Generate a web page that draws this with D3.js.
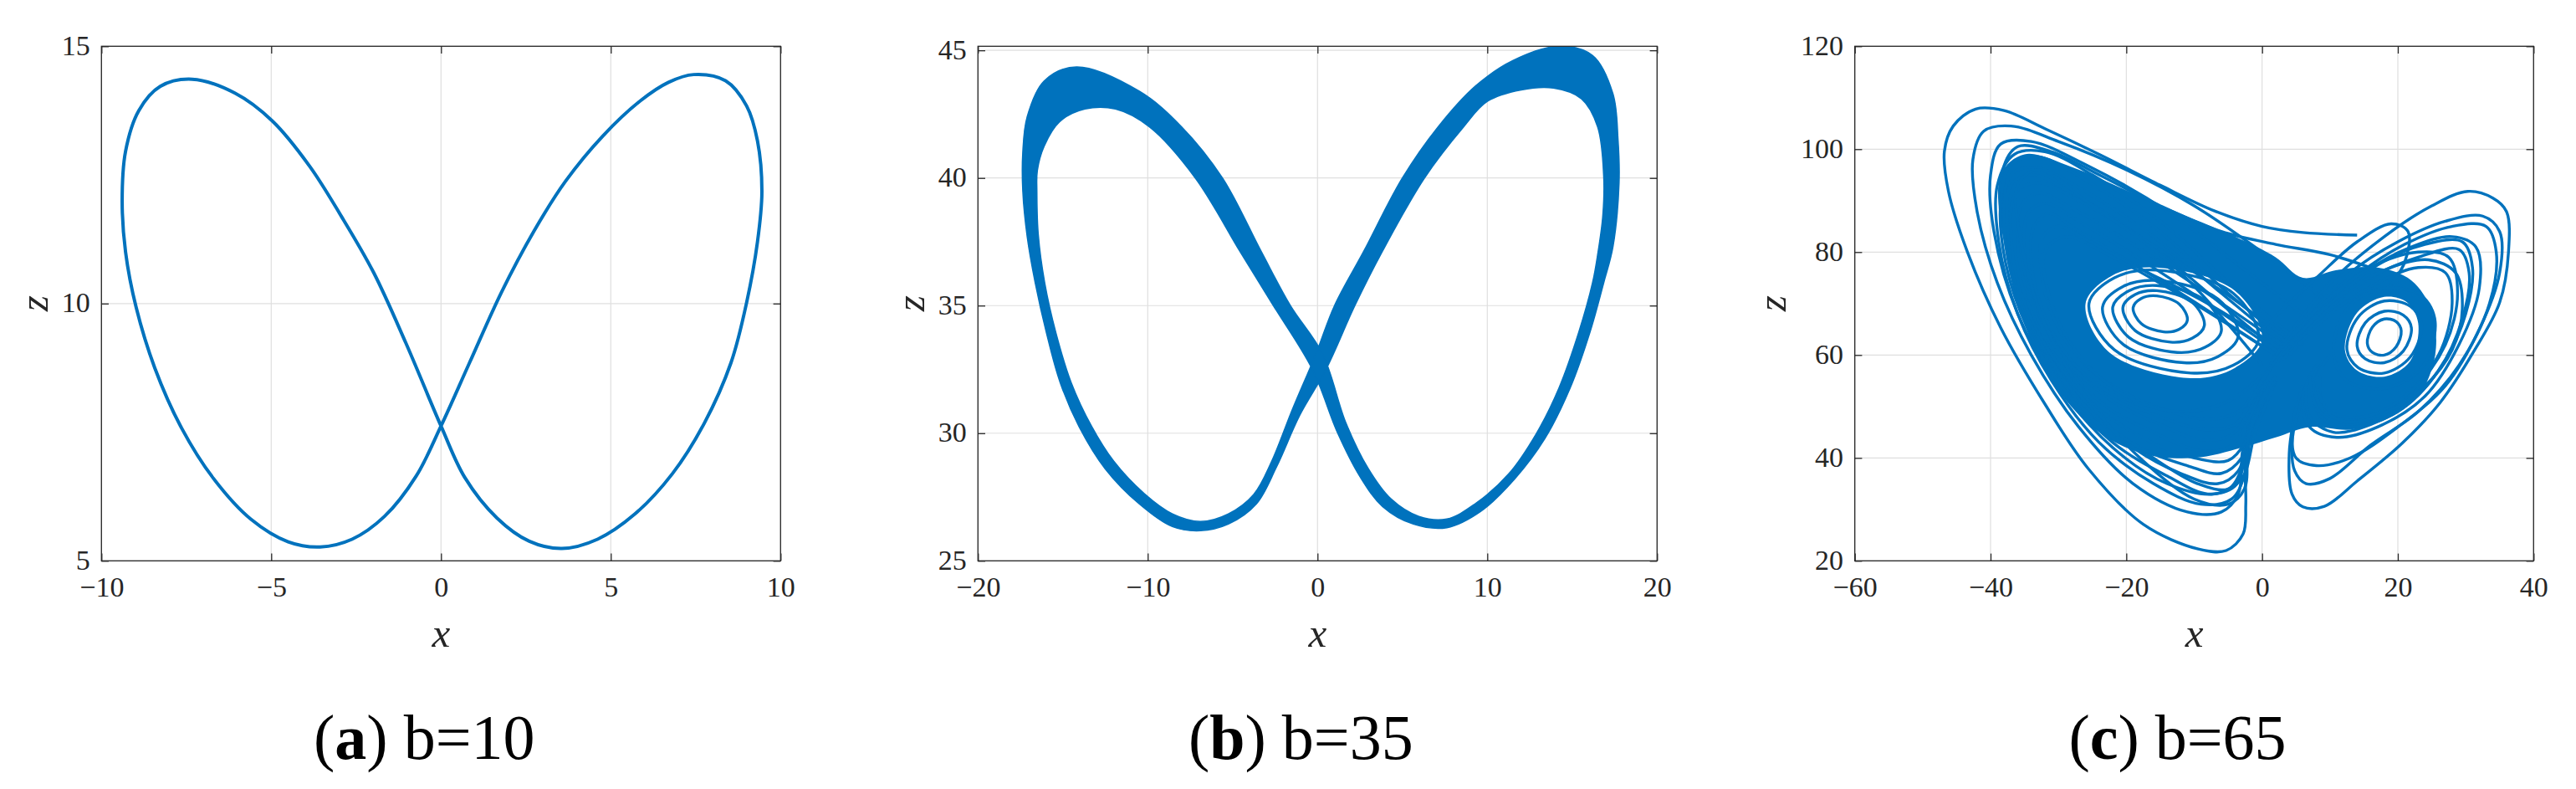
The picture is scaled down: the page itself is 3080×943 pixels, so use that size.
<!DOCTYPE html>
<html><head><meta charset="utf-8">
<script src="https://cdn.jsdelivr.net/npm/d3@7"></script>
<style>
body{margin:0;background:#fff}
</style>
</head><body>
<svg id="c" width="3080" height="943"></svg>
<script>
// ---------------- DATA ----------------
const xDomA=[-10,10], zDomA=[5,15];
const xDomB=[-20,20], zDomB=[25,45.16];
const xDomC=[-60,40], zDomC=[20,120];
const xTicksA=[-10,-5,0,5,10], zTicksA=[5,10,15];
const xTicksB=[-20,-10,0,10,20], zTicksB=[25,30,35,40,45];
const xTicksC=[-60,-40,-20,0,20,40], zTicksC=[20,40,60,80,100,120];
const captionTags=["a","b","c"];
const captionTexts=["b=10","b=35","b=65"];

// panel (a): periodic orbit (x,z)
const orbitA=[[0,7.62],[0.84,8.85],[1.78,10.22],[2.73,11.4],[3.67,12.38],[4.77,13.26],[5.87,13.94],[6.7,14.3],[7.44,14.45],[8.38,14.33],[9.0,13.84],[9.32,13.16],[9.45,12.18],[9.32,11.2],[9.0,10.02],[8.54,8.85],[7.75,7.67],[6.81,6.69],[5.71,5.91],[4.61,5.42],[3.56,5.24],[2.6,5.38],[1.65,5.83],[0.7,6.62],
[0,7.62],[-1.04,9.24],[-1.99,10.61],[-2.93,11.69],[-3.87,12.67],[-4.97,13.55],[-6.07,14.09],[-7.33,14.36],[-8.27,14.22],[-8.9,13.75],[-9.29,12.96],[-9.39,11.98],[-9.29,11.0],[-8.98,9.93],[-8.43,8.75],[-7.64,7.58],[-6.7,6.6],[-5.6,5.81],[-4.5,5.37],[-3.56,5.27],[-2.62,5.42],[-1.67,5.86],[-0.73,6.65]];

// panel (b): the two edges of the thick band (same ordering)
const bandEdgeA=[[0.3,33.1],[-1.6,35.0],[-3.3,37.1],[-5.6,40.0],[-8.0,42.0],[-10.5,43.4],[-14.2,44.35],[-16.1,43.8],[-17.1,42.4],[-17.36,41.0],[-17.36,39.5],[-17.1,37.7],[-16.63,35.9],[-15.97,33.94],[-15.15,31.97],[-14.0,30.2],[-12.5,28.6],[-10.5,27.23],[-8.55,26.34],[-6.9,26.18],[-5.25,26.44],[-3.6,27.23],[-2.4,28.7],[-1.05,30.7],
[0.5,32.5],[2.2,35.0],[3.8,37.1],[6.3,40.0],[8.6,42.0],[10.0,43.0],[12.0,43.45],[13.9,43.52],[15.55,43.1],[16.5,42.0],[16.86,40.0],[16.8,38.5],[16.5,37.0],[16.2,35.9],[15.38,33.94],[14.22,31.77],[12.9,30.0],[11.25,28.4],[9.27,27.23],[7.62,26.64],[5.97,26.74],[4.32,27.43],[3.0,28.6],[1.68,30.39]];
const bandEdgeB=[[-0.3,32.5],[-2.6,35.0],[-4.55,37.1],[-7.2,40.0],[-9.9,42.0],[-11.9,42.7],[-13.7,42.7],[-15.2,42.2],[-16.1,41.25],[-16.5,40.3],[-16.53,39.5],[-16.45,37.8],[-16.07,35.9],[-15.41,33.94],[-14.5,31.97],[-13.33,30.3],[-12.0,28.9],[-10.2,27.63],[-8.55,26.84],[-6.9,26.54],[-5.25,26.84],[-3.76,27.6],[-2.7,28.9],[-1.5,30.9],
[-0.1,33.1],[1.0,35.0],[2.7,37.1],[5.0,40.0],[7.1,42.0],[9.3,43.6],[11.5,44.6],[14.2,45.16],[16.2,44.8],[17.4,43.3],[17.7,41.5],[17.76,39.8],[17.4,37.3],[16.86,35.9],[16.04,33.94],[14.88,31.77],[13.4,29.8],[11.6,28.2],[9.6,26.93],[7.62,26.3],[5.64,26.44],[3.83,27.13],[2.5,28.3],[1.19,30.0]];

// panel (c): chaotic trajectory, read as separate loops
const leftLoops=[
[[14,83.3],[6,83.8],[0,85],[-7,88],[-15,93],[-24,99],[-32,104],[-38,107.5],[-42.2,107.8],[-45.5,104.5],[-46.8,99.6],[-46.2,91.8],[-43.4,80],[-38.5,65.3],[-32.1,50.7],[-25.6,37.9],[-17.5,27.1],[-9.4,22.3],[-5.3,22],[-2.8,25.2],[-2.4,31],[-2.5,40.9],[-1.5,50]],
[[10,70],[0,80],[-10,89],[-20,96],[-30,101.5],[-37,104.5],[-41,103.5],[-42.6,98],[-42,88],[-39,74],[-34,60],[-27,46],[-19,35],[-11,29.5],[-6,29.5],[-3.5,33],[-2.8,42],[0,52]],
[[8,66],[-2,76],[-14,88],[-26,97],[-34,101.5],[-38.5,101],[-40,95],[-39.5,84],[-36,68],[-30,54],[-22,42],[-14,35],[-7,33],[-3,36],[-1,45],[2,55]],
[[18,76],[10,79.5],[2,81.5],[-6,84],[-15,89],[-24,95],[-31,99.5],[-36,100.5],[-38.2,96],[-38,86],[-35.5,72],[-31,60],[-24,48],[-16,40],[-9.5,35],[-5,34],[-3,38],[-2,45],[0,53]],
[[6,62],[-4,73],[-15,86],[-25,95],[-32,99.5],[-36.5,99],[-39,93],[-38.8,82],[-36,68],[-31,55],[-24,43],[-16,35],[-9,31],[-4.5,32],[-2.5,37],[-1.5,46],[1,55]],
[[5,61],[-5,72],[-16,85],[-26,94],[-33,98.5],[-37,97],[-38.5,90],[-37.8,78],[-34.5,65],[-29,53],[-22,43],[-14,36.5],[-8,33],[-4,34.5],[-2.5,40],[-1,49],[2,56]],
[[4,61],[-6,72],[-17,84],[-27,92.5],[-33.5,96.5],[-37,95],[-38,88],[-37,76],[-33,63],[-27,51],[-19,42],[-12,37],[-6.5,35],[-3.5,37.5],[-2,44],[0.5,52]],
[[3,60],[-7,71],[-18,83],[-28,91.5],[-34,95],[-37,93],[-37.5,85],[-36,73],[-32,61],[-26,50],[-18,42],[-11,38.5],[-6,37],[-3,40],[-1.5,46],[1,53]],
[[5,62],[-6,72.5],[-18,83],[-27,90],[-33,93.5],[-36.3,91.5],[-37,84],[-35.5,72],[-31,60],[-24.5,50],[-17,43.5],[-10,40],[-5,39.5],[-2.5,43],[-1,49],[2,55]],
[[4,61],[-7,71],[-19,81.5],[-28,88.5],[-33,91.5],[-35.5,89],[-36,81],[-34,70],[-29.5,59],[-23,50],[-16,45],[-9.5,41.5],[-5,42],[-2.5,46],[-0.5,52]],
[[3,60],[-8,70],[-19,79.5],[-27,86],[-32,89.5],[-34.5,87.5],[-35,80],[-33,69],[-28.5,58.5],[-22,51],[-15,46.5],[-9,43.5],[-4.5,44.5],[-2,49],[0,55]],
[[2,60],[-9,69.5],[-20,78.5],[-27.5,84.5],[-31.5,87.5],[-33.6,85],[-34,78],[-32,67.5],[-27.5,58],[-21,51.5],[-14,47.5],[-8.5,45.5],[-4,46.5],[-1.5,51],[1,57]],
[[3,61],[-8,70],[-19,77.5],[-26,82.5],[-30,85],[-32.3,83],[-32.5,76],[-30.5,66.5],[-26,58],[-20,52.5],[-13.5,49],[-8,47.5],[-3.5,49],[-1,53],[1.5,58]],
[[0,58],[-12,76],[-26,90],[-33,96],[-36,93],[-35.5,82],[-32,66],[-26,52],[-18,40],[-10,32],[-5,31],[-2.6,34],[-2,44],[1,54]],
[[2,60],[-10,70],[-22,79],[-29,83],[-32,80],[-31,70],[-27,60],[-20,52],[-12,49],[-5,51],[0,56]]
];
const leftRings=[
[[-19,69.2],[-17.8,71],[-15.5,71.5],[-12.2,69.9],[-11,66.8],[-12.2,65],[-14.5,64.5],[-17.8,66.1]],
[[-20.5,69.25],[-18.7,71.75],[-15.5,72.5],[-10.3,70.25],[-8.5,65.75],[-10.3,63.25],[-13.5,62.5],[-18.7,64.75]],
[[-22,69.3],[-19.6,72.5],[-15.5,73.5],[-8.4,70.6],[-6,64.7],[-8.4,61.5],[-12.5,60.5],[-19.6,63.4]],
[[-23.5,69.3],[-20.5,73.3],[-15.5,74.5],[-6.5,70.9],[-3.5,63.7],[-6.5,59.7],[-11.5,58.5],[-20.5,62.1]],
[[-25.5,70],[-21.75,75],[-15.5,76.5],[-4.25,72],[-0.5,63],[-4.25,58],[-10.5,56.5],[-21.75,61]]
];
const rightLoops=[
[[-2,50],[3,62],[10,74],[18,83],[25,89],[30.3,91.8],[34,90.5],[36,87.9],[36.3,80],[35,70.2],[31.1,60.5],[26.2,50.7],[20.6,42.8],[14,35.5],[9.2,30.6],[6,30.5],[4.4,33],[4,40.9],[5,50]],
[[0,55],[6,66],[13,76],[20,82],[27,86],[32.5,87],[35,84],[35,76],[32,65],[27,54],[20,46],[13,40],[8,38.5],[5,40],[4.5,46],[6,54]],
[[1,57],[7,67],[14,75.5],[21,81.5],[28,85],[33,85],[34.5,80],[33.5,70],[29,58],[23,49],[16,42.5],[10,36],[6.5,35],[4.8,37.5],[4.5,44],[6,52]],
[[2,58],[8,68],[15,76],[22,81],[28,83],[31.5,81],[32,73],[29,62],[24,52],[17,46],[11,44],[7,46],[6,52],[8,58]],
[[3,59],[9,68],[16,75],[23,79],[29,80.5],[30.5,76],[29.5,67],[26,57],[20,49],[13,46],[9,47.5],[7.5,53],[9,59]],
[[3,60],[10,70],[17,77.5],[24,81.5],[29.5,82],[31,77],[30,68],[27,59],[22,51],[16,46.5],[10.5,45],[7,48],[6.5,54]],
[[2,60],[9,70],[16,77],[23,80],[27.5,79],[28.8,72],[27,62],[22,53],[16,48],[11,47],[8,50],[7,56]],
[[4,62],[11,71],[18,76.5],[24.5,78.5],[28.5,76],[29.5,69],[28,61],[24,54],[18.5,49],[12.5,47],[9,50],[8.5,56]],
[[4,60],[10,68],[17,74],[23,77],[27,76],[28,70],[26,60],[21,52],[15,48],[10,49],[8,55],[10,60]],
[[0,65],[8,75],[14,82],[19,85.5],[21.5,84],[21,78],[18,72]]
];
const rightRings=[
[[20.5,64.7],[19.75,66.5],[18,67],[16.25,65.4],[15.5,62.3],[16.25,60.5],[18,60],[19.75,61.6]],
[[22,65.25],[20.8,67.75],[18,68.5],[15.2,66.25],[14,61.75],[15.2,59.25],[18,58.5],[20.8,60.75]],
[[23.5,65.95],[21.85,69.45],[18,70.5],[14.15,67.35],[12.5,61.05],[14.15,57.55],[18,56.5],[21.85,59.65]],
[[25.5,66.5],[23.5,71.5],[18,73],[12.5,69],[10.5,60.5],[12.5,55],[18,53.5],[23.5,57.5]]
];
// outline of the saturated (densely overlapping) region, and the two open eyes
const denseCore=[[-38.5,95],[-35,99],[-28,96.5],[-20,92],[-12,87.5],[-4,83],[2,79],[6,75],[11,76.5],[17,77],[22,74.5],[25,68.5],[25.5,60],[23,52],[18,47.5],[13,45.5],[7,46],[2,44],[-3,42],[-10,40],[-18,41],[-25,46],[-31,55],[-35,66],[-37.5,78]];
const denseEyeL=[[-26,70],[-22,75.5],[-15.5,77],[-4,72.5],[0,63],[-4,57.5],[-10.5,55.5],[-22.5,60.5]];
const denseEyeR=[[23,66.2],[21.3,70.3],[18,71.3],[14,68.2],[12.2,61],[14,57],[18,55.8],[21.8,58.8]];

// ---------------- LAYOUT ----------------
const FONT='"Liberation Serif","DejaVu Serif","Noto Serif",serif';
const BLUE="#0072BD", INK="#262626", GRID="#dfdfdf";
const T=55.3, B=670.3, TICK=8.7;
const panels=[
 {L:121.3,R:933.3,xDom:xDomA,zDom:zDomA,xTicks:xTicksA,zTicks:zTicksA,zOff:64},
 {L:1169.3,R:1981.3,xDom:xDomB,zDom:zDomB,xTicks:xTicksB,zTicks:zTicksB,zOff:64},
 {L:2217.7,R:3029.3,xDom:xDomC,zDom:zDomC,xTicks:xTicksC,zTicks:zTicksC,zOff:82.6}
];
const svg=d3.select("#c");
const fmt=d=>d<0?"\u2212"+Math.abs(d):String(d);

function drawPanel(p,idx,drawer){
  const x=d3.scaleLinear().domain(p.xDom).range([p.L,p.R]);
  const z=d3.scaleLinear().domain(p.zDom).range([B,T]);
  const g=svg.append("g");
  g.append("g").selectAll("line").data(p.xTicks).join("line")
   .attr("x1",d=>x(d)).attr("x2",d=>x(d)).attr("y1",T).attr("y2",B)
   .attr("stroke",GRID).attr("stroke-width",1.2);
  g.append("g").selectAll("line").data(p.zTicks).join("line")
   .attr("x1",p.L).attr("x2",p.R).attr("y1",d=>z(d)).attr("y2",d=>z(d))
   .attr("stroke",GRID).attr("stroke-width",1.2);
  svg.append("clipPath").attr("id","clip"+idx).append("rect")
   .attr("x",p.L).attr("y",T).attr("width",p.R-p.L).attr("height",B-T);
  const dg=g.append("g").attr("clip-path",`url(#clip${idx})`);
  drawer(dg,x,z);
  g.append("rect").attr("x",p.L).attr("y",T).attr("width",p.R-p.L).attr("height",B-T)
   .attr("fill","none").attr("stroke",INK).attr("stroke-width",1.3);
  const ax=[
    [d3.axisBottom(x).tickValues(p.xTicks).tickSize(TICK).tickFormat(fmt),`translate(0,${B})`,"b"],
    [d3.axisTop(x).tickValues(p.xTicks).tickSize(TICK).tickFormat(""),`translate(0,${T})`,"t"],
    [d3.axisLeft(z).tickValues(p.zTicks).tickSize(TICK).tickFormat(fmt),`translate(${p.L},0)`,"l"],
    [d3.axisRight(z).tickValues(p.zTicks).tickSize(TICK).tickFormat(""),`translate(${p.R},0)`,"r"]
  ];
  ax.forEach(([a,tr,side])=>{
    const ag=g.append("g").attr("transform",tr).call(a);
    ag.attr("font-family",FONT).attr("font-size",34);
    ag.select(".domain").remove();
    ag.selectAll(".tick line").attr("stroke",INK).attr("stroke-width",1.3);
    if(side==="b") ag.selectAll(".tick line").attr("y2",-TICK);
    if(side==="t") ag.selectAll(".tick line").attr("y2",TICK);
    if(side==="l") ag.selectAll(".tick line").attr("x2",TICK);
    if(side==="r") ag.selectAll(".tick line").attr("x2",-TICK);
    const tx=ag.selectAll(".tick text").attr("font-family",FONT).attr("font-size",34).attr("fill",INK);
    if(side==="b"){tx.attr("y",42.6).attr("dy",null);}
    if(side==="l"){tx.attr("x",-13.6).attr("dy",null).attr("y",10);}
  });
  g.append("text").attr("x",(p.L+p.R)/2).attr("y",773).attr("text-anchor","middle")
   .attr("font-family",FONT).attr("font-size",49).attr("font-style","italic").attr("fill",INK).text("x");
  g.append("text").attr("transform",`translate(${p.L-p.zOff},${(T+B)/2}) rotate(-90)`)
   .attr("text-anchor","middle").attr("font-family",FONT).attr("font-size",49)
   .attr("font-style","italic").attr("fill",INK).text("z");
  const cap=g.append("text").attr("x",(p.L+p.R)/2-20).attr("y",907).attr("text-anchor","middle")
   .attr("font-family",FONT).attr("font-size",76).attr("fill","#000");
  cap.append("tspan").text("(");
  cap.append("tspan").attr("font-weight","bold").text(captionTags[idx]);
  cap.append("tspan").text(") "+captionTexts[idx]);
}

// panel a
drawPanel(panels[0],0,(g,x,z)=>{
  const line=d3.line().x(d=>x(d[0])).y(d=>z(d[1])).curve(d3.curveCatmullRomClosed.alpha(0.5));
  g.append("path").attr("d",line(orbitA)).attr("fill","none").attr("stroke",BLUE).attr("stroke-width",4);
});
// panel b
drawPanel(panels[1],1,(g,x,z)=>{
  const line=d3.line().x(d=>x(d[0])).y(d=>z(d[1])).curve(d3.curveCatmullRomClosed.alpha(0.5));
  const dPath=line(bandEdgeA)+line(bandEdgeB.slice().reverse());
  g.append("path").attr("d",dPath).attr("fill",BLUE).attr("fill-rule","nonzero")
   .attr("stroke",BLUE).attr("stroke-width",1.5);
});
// panel c
drawPanel(panels[2],2,(g,x,z)=>{
  const closed=d3.line().x(d=>x(d[0])).y(d=>z(d[1])).curve(d3.curveCatmullRomClosed.alpha(0.5));
  const open=d3.line().x(d=>x(d[0])).y(d=>z(d[1])).curve(d3.curveCatmullRom.alpha(0.5));
  g.append("path").attr("d",closed(denseCore)+closed(denseEyeL)+closed(denseEyeR))
   .attr("fill",BLUE).attr("fill-rule","evenodd");
  g.selectAll(".ll").data(leftLoops.concat(rightLoops)).join("path").attr("class","ll")
   .attr("d",d=>open(d)).attr("fill","none").attr("stroke",BLUE).attr("stroke-width",3.4);
  g.selectAll(".rg").data(leftRings.concat(rightRings)).join("path").attr("class","rg")
   .attr("d",d=>closed(d)).attr("fill","none").attr("stroke",BLUE).attr("stroke-width",3.4);
});
</script>
</body></html>
